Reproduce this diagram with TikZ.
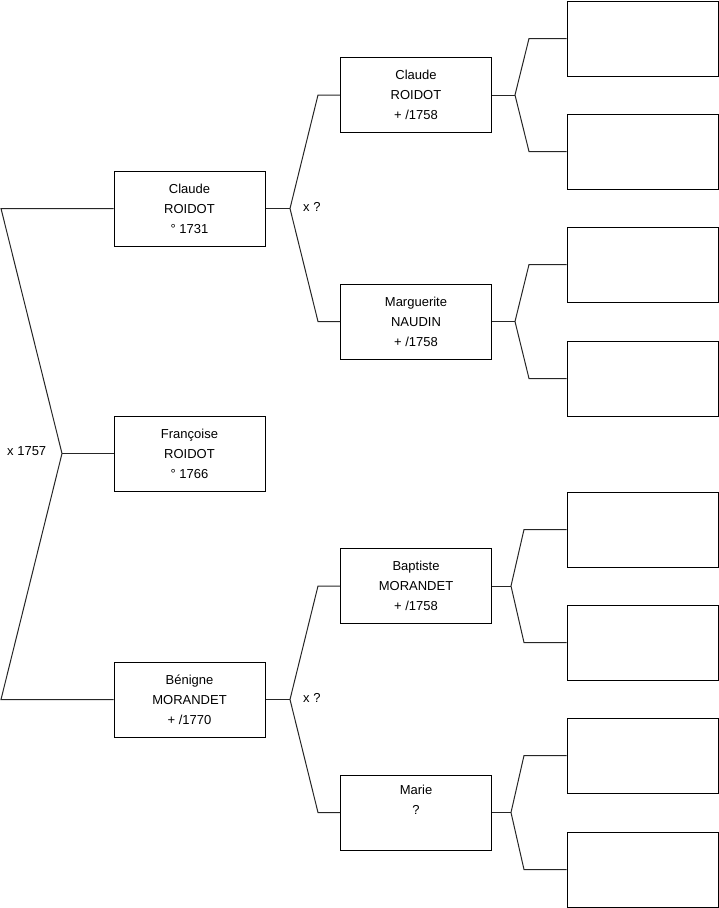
\documentclass[tikz,border=0pt]{standalone}
\usepackage{fontspec}
\setmainfont{Liberation Sans}
\begin{document}
\begin{tikzpicture}[x=1pt,y=-1pt,
  person/.style={draw=black,line width=1pt,minimum width=151pt,minimum height=75pt,inner sep=0pt,align=center,font=\fontsize{13}{20}\selectfont},
  link/.style={draw=black!85,line width=1pt},
  lab/.style={font=\fontsize{13}{15}\selectfont,inner sep=0pt,anchor=west}]
\useasboundingbox (0,0) rectangle (719,908);
% generation 1
\node[person] (c1) at (189.5,208.5) {Claude\\ROIDOT\\° 1731\hspace{8pt}};
\node[person] (f) at (189.5,453.5) {Françoise\\ROIDOT\\° 1766\hspace{8pt}};
\node[person] (b1) at (189.5,699.5) {Bénigne\\MORANDET\\+ /1770};
% generation 2
\node[person] (c2) at (416,95) {Claude\\ROIDOT\\+ /1758};
\node[person] (m2) at (416,321.5) {Marguerite\\NAUDIN\\+ /1758};
\node[person] (bp) at (416,586) {Baptiste\\MORANDET\\+ /1758};
\node[person] (ma) at (416,812.5) {Marie\\?\\\strut};
% generation 3
\foreach \n/\y in {g1/38.5,g2/151.5,g3/264.5,g4/378.5,g5/529.5,g6/642.5,g7/755.5,g8/869.5}
  \node[person] (\n) at (642.5,\y) {};
% coordinates
\coordinate (ltop) at (1,208.5);
\coordinate (lmid) at (62,453.5);
\coordinate (lbot) at (1,699.5);
\coordinate (j1) at (290,208.5);
\coordinate (j1a) at (318,95);
\coordinate (j1b) at (318,321.5);
\coordinate (j2) at (290,699.5);
\coordinate (j2a) at (318,586);
\coordinate (j2b) at (318,812.5);
\coordinate (k1) at (515,95);
\coordinate (k1a) at (529,38.5);
\coordinate (k1b) at (529,151.5);
\coordinate (k2) at (515,321.5);
\coordinate (k2a) at (529,264.5);
\coordinate (k2b) at (529,378.5);
\coordinate (k3) at (511,586);
\coordinate (k3a) at (524,529.5);
\coordinate (k3b) at (524,642.5);
\coordinate (k4) at (511,812.5);
\coordinate (k4a) at (524,755.5);
\coordinate (k4b) at (524,869.5);
% connectors
\draw[link] (c1.west) -- (ltop) -- (lmid) -- (lbot) -- (b1.west);
\draw[link] (lmid) -- (f.west);
\draw[link] (c1.east) -- (j1);
\draw[link] (c2.west) -- (j1a) -- (j1) -- (j1b) -- (m2.west);
\draw[link] (b1.east) -- (j2);
\draw[link] (bp.west) -- (j2a) -- (j2) -- (j2b) -- (ma.west);
\draw[link] (c2.east) -- (k1);
\draw[link] (g1.west) -- (k1a) -- (k1) -- (k1b) -- (g2.west);
\draw[link] (m2.east) -- (k2);
\draw[link] (g3.west) -- (k2a) -- (k2) -- (k2b) -- (g4.west);
\draw[link] (bp.east) -- (k3);
\draw[link] (g5.west) -- (k3a) -- (k3) -- (k3b) -- (g6.west);
\draw[link] (ma.east) -- (k4);
\draw[link] (g7.west) -- (k4a) -- (k4) -- (k4b) -- (g8.west);
% labels
\node[lab] (x0) at (7,451.5) {x 1757};
\node[lab] (x1) at (303,207) {x ?};
\node[lab] (x2) at (303,698) {x ?};
\end{tikzpicture}
\end{document}
